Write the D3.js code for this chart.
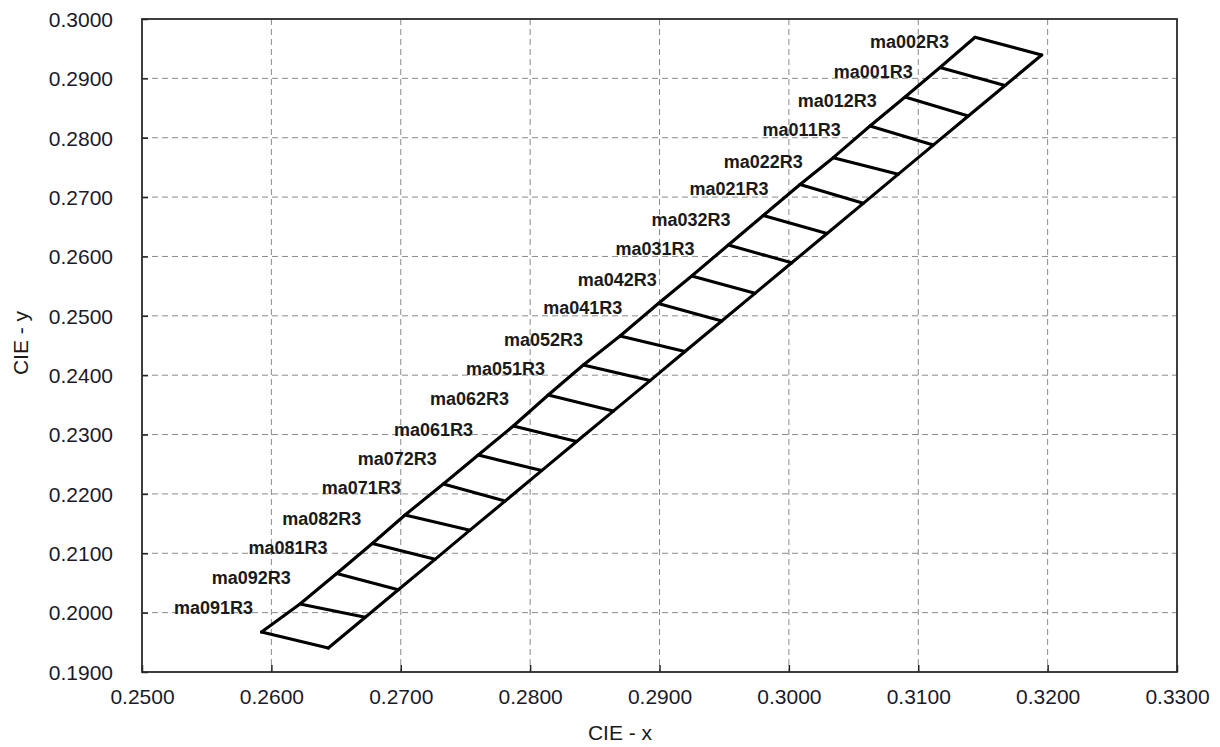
<!DOCTYPE html>
<html>
<head>
<meta charset="utf-8">
<script src="https://cdn.jsdelivr.net/npm/d3@7"></script>
<style>
  html, body { margin: 0; padding: 0; background: #fff; }
  svg { display: block; font-family: "Liberation Sans", Arial, sans-serif; }
</style>
</head>
<body>
<svg id="chart" width="1220" height="747"></svg>
<script>
// ---- data ----
// Left rail points, bottom to top
const leftX = [0.25924, 0.26221, 0.26505, 0.26780, 0.27033, 0.27329, 0.27599, 0.27870, 0.28140, 0.28411, 0.28695,
               0.28991, 0.29249, 0.29532, 0.29802, 0.30086, 0.30343, 0.30627, 0.30898, 0.31168, 0.31439];
const leftY = [0.19674, 0.20146, 0.20659, 0.21165, 0.21645, 0.22167, 0.22656, 0.23144, 0.23666, 0.24172, 0.24660,
               0.25207, 0.25671, 0.26193, 0.26690, 0.27212, 0.27664, 0.28198, 0.28686, 0.29183, 0.29692];
// Right rail points, bottom to top
const rightX = [0.26440, 0.26726, 0.26981, 0.27265, 0.27535, 0.27806, 0.28089, 0.28360, 0.28643, 0.28927, 0.29197,
                0.29481, 0.29738, 0.30022, 0.30295, 0.30575, 0.30846, 0.31116, 0.31387, 0.31671, 0.31954];
const rightY = [0.19404, 0.19923, 0.20385, 0.20898, 0.21389, 0.21879, 0.22393, 0.22883, 0.23395, 0.23909, 0.24399,
                0.24913, 0.25379, 0.25893, 0.26387, 0.26895, 0.27386, 0.27876, 0.28366, 0.28880, 0.29394];
// Labels for left-rail points 1..20 (bottom to top)
const labels = ["ma091R3", "ma092R3", "ma081R3", "ma082R3", "ma071R3", "ma072R3", "ma061R3", "ma062R3",
                "ma051R3", "ma052R3", "ma041R3", "ma042R3", "ma031R3", "ma032R3", "ma021R3", "ma022R3",
                "ma011R3", "ma012R3", "ma001R3", "ma002R3"];
const xTicks = [0.25, 0.26, 0.27, 0.28, 0.29, 0.30, 0.31, 0.32, 0.33];
const yTicks = [0.19, 0.20, 0.21, 0.22, 0.23, 0.24, 0.25, 0.26, 0.27, 0.28, 0.29, 0.30];
const xDomain = [0.25, 0.33];
const yDomain = [0.19, 0.30];
const xTitle = "CIE - x";
const yTitle = "CIE - y";

// ---- layout ----
const margin = { left: 142, top: 19, right: 43, bottom: 75 };
const W = 1220, H = 747;
const iw = W - margin.left - margin.right;
const ih = H - margin.top - margin.bottom;

const svg = d3.select("#chart");
const g = svg.append("g").attr("transform", `translate(${margin.left},${margin.top})`);

const x = d3.scaleLinear().domain(xDomain).range([0, iw]);
const y = d3.scaleLinear().domain(yDomain).range([ih, 0]);

// grid
g.append("g").selectAll("line").data(xTicks.slice(1, -1)).join("line")
  .attr("x1", d => x(d)).attr("x2", d => x(d)).attr("y1", 0).attr("y2", ih)
  .attr("stroke", "#8a8a8a").attr("stroke-width", 1).attr("stroke-dasharray", "6,4");
g.append("g").selectAll("line").data(yTicks.slice(1, -1)).join("line")
  .attr("y1", d => y(d)).attr("y2", d => y(d)).attr("x1", 0).attr("x2", iw)
  .attr("stroke", "#8a8a8a").attr("stroke-width", 1).attr("stroke-dasharray", "6,4");

// axes
const xAxis = d3.axisBottom(x).tickValues(xTicks).tickFormat(d3.format(".4f")).tickSizeInner(-7).tickSizeOuter(0).tickPadding(17);
const yAxis = d3.axisLeft(y).tickValues(yTicks).tickFormat(d3.format(".4f")).tickSizeInner(-6).tickSizeOuter(0).tickPadding(29);

const gx = g.append("g").attr("transform", `translate(0,${ih})`).call(xAxis);
const gy = g.append("g").call(yAxis);
[gx, gy].forEach(a => {
  a.select(".domain").remove();
  a.selectAll(".tick line").attr("stroke", "#222").attr("stroke-width", 1.5);
  a.selectAll(".tick text").attr("fill", "#1a1a2a").style("font-size", "21px")
    .style("font-family", '"Liberation Sans", Arial, sans-serif');
});
gy.selectAll(".tick text").attr("dy", "0.35em");

// frame
g.append("rect").attr("x", 0).attr("y", 0).attr("width", iw).attr("height", ih)
  .attr("fill", "none").attr("stroke", "#2a2a2a").attr("stroke-width", 1.8);

// ladder
const leftPts = leftX.map((v, i) => [x(v), y(leftY[i])]);
const rightPts = rightX.map((v, i) => [x(v), y(rightY[i])]);
const line = d3.line();
const band = g.append("g").attr("fill", "none").attr("stroke", "#000").attr("stroke-width", 3.1)
  .attr("stroke-linejoin", "round").attr("stroke-linecap", "round");
band.append("path").attr("d", line(leftPts));
band.append("path").attr("d", line(rightPts));
band.selectAll("line.rung").data(d3.range(leftPts.length)).join("line").attr("class", "rung")
  .attr("x1", i => leftPts[i][0]).attr("y1", i => leftPts[i][1])
  .attr("x2", i => rightPts[i][0]).attr("y2", i => rightPts[i][1]);

// labels (attached to left-rail points 1..20)
const n = labels.length;
g.append("g").selectAll("text").data(labels).join("text")
  .attr("x", (d, i) => leftPts[i + 1][0] - (47 - 21 * i / (n - 1)))
  .attr("y", (d, i) => leftPts[i + 1][1] + 4)
  .attr("dy", "0.35em")
  .attr("text-anchor", "end")
  .attr("fill", "#1a1a1a")
  .style("font-size", "18px").style("font-weight", "bold")
  .text(d => d);

// axis titles
svg.append("text").attr("x", 620).attr("y", 740).attr("text-anchor", "middle")
  .attr("fill", "#1a1a1a").style("font-size", "21px").text(xTitle);
svg.append("text").attr("transform", `translate(28,343) rotate(-90)`).attr("text-anchor", "middle")
  .attr("fill", "#1a1a1a").style("font-size", "21px").text(yTitle);
</script>
</body>
</html>
